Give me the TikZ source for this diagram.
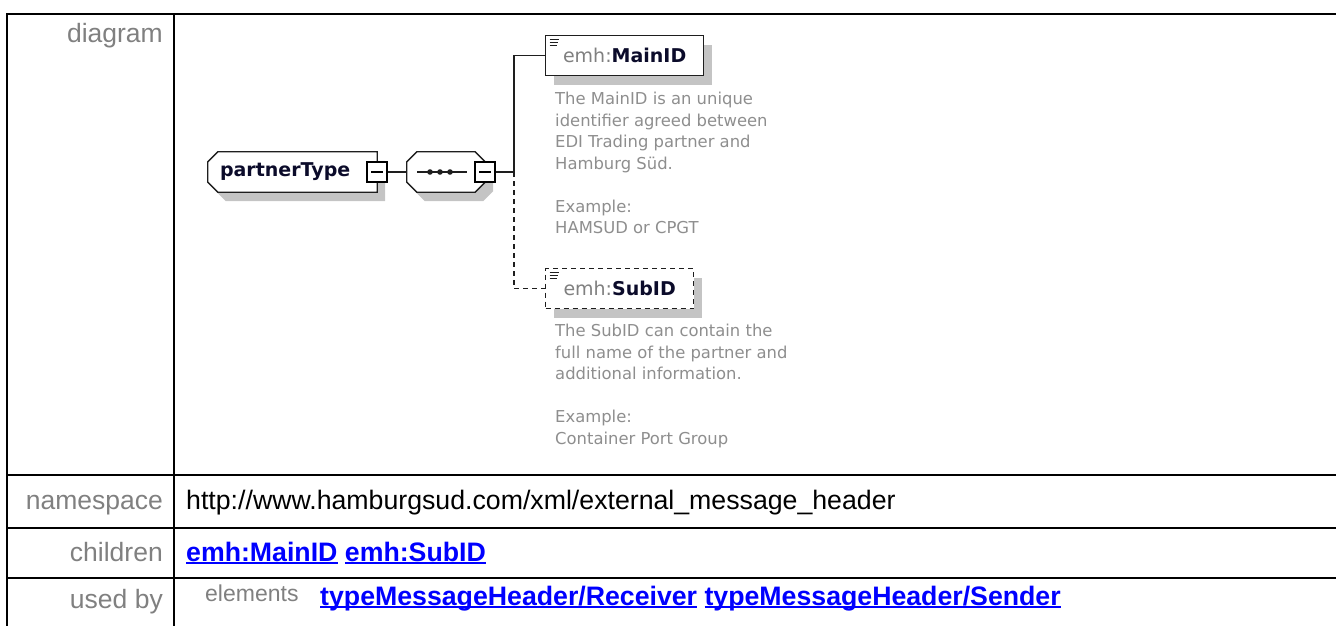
\documentclass[tikz,border=0pt]{standalone}
\usepackage{fontspec}
\setmainfont{Liberation Sans}
\newfontfamily\diafont{DejaVu Sans}
\usetikzlibrary{backgrounds,shadows}

\definecolor{lblgray}{HTML}{808080}
\definecolor{docgray}{HTML}{8E8E8E}
\definecolor{shadowgray}{HTML}{C4C4C4}
\definecolor{linkblue}{HTML}{0000FF}
\definecolor{boxink}{HTML}{1E1E1E}
\definecolor{nametext}{HTML}{0B0B2A}

\newcommand\ulink[1]{\setbox0\hbox{#1}\rlap{\rule[-3pt]{\wd0}{2pt}}\box0\relax}
\newcommand\leftcut[1]{([xshift=10pt]#1.north west) -- (#1.north east) -- (#1.south east)
  -- ([xshift=10pt]#1.south west) -- ([yshift=10pt]#1.south west) -- ([yshift=-10pt]#1.north west) -- cycle}
\newcommand\bothcut[1]{([xshift=10pt]#1.north west) -- ([xshift=-10pt]#1.north east)
  -- ([yshift=-10pt]#1.north east) -- ([yshift=10pt]#1.south east) -- ([xshift=-10pt]#1.south east)
  -- ([xshift=10pt]#1.south west) -- ([yshift=10pt]#1.south west) -- ([yshift=-10pt]#1.north west) -- cycle}

\begin{document}
\begin{tikzpicture}[x=1pt,y=-1pt,
  rule/.style={line width=2pt},
  rowlabel/.style={anchor=base east,inner sep=0pt,text=lblgray,font=\fontsize{26.5}{30}\selectfont},
  rowtext/.style={anchor=base west,inner sep=0pt,font=\fontsize{26.7}{30}\selectfont},
  linktext/.style={rowtext,text=linkblue,font=\fontsize{26.7}{30}\selectfont\bfseries},
  shade/.style={drop shadow={shadow xshift=8pt,shadow yshift=-9pt,fill=shadowgray,opacity=1}},
  ctype/.style={rectangle,minimum height=40pt,inner sep=0pt,text=nametext,
    font=\diafont\fontsize{19}{22}\selectfont\bfseries},
  outline/.style={draw=boxink,line width=1.3pt,fill=white},
  shadowfill/.style={fill=shadowgray,transform canvas={shift={(8pt,-9pt)}}},
  minusbox/.style={rectangle,draw=black,line width=2pt,fill=white,minimum size=20pt,inner sep=0pt,
    path picture={\draw[line width=1.5pt] ([xshift=4pt]path picture bounding box.west)
      -- ([xshift=-4pt]path picture bounding box.east);}},
  element/.style={rectangle,draw=boxink,line width=1.3pt,fill=white,shade,minimum height=40pt,
    inner sep=0pt,font=\diafont\fontsize{19}{22}\selectfont,anchor=north west,
    path picture={\foreach \k in {0,1,2}{\draw[solid,line width=1.1pt,boxink]
      ([xshift=4pt,yshift=-3.5pt-\k*3pt]path picture bounding box.north west) -- ++(9pt-\k*1pt,0pt);}}},
  doctext/.style={anchor=north west,align=left,inner sep=0pt,text=docgray,
    font=\diafont\fontsize{16.4}{21.5}\selectfont},
  conn/.style={line width=1.5pt,boxink}]
\useasboundingbox (0,0) rectangle (1336,626);

% table frame
\draw[rule] (7,626) -- (7,14) -- (1336,14);
\draw[rule] (174,14) -- (174,626);
\foreach \y in {475,528,578}
  \draw[rule] (7,\y) -- (1336,\y);

% row labels
\node[rowlabel] (lbldiagram) at (163,43) {diagram};
\node[rowlabel] (lblnamespace) at (163,509) {namespace};
\node[rowlabel] (lblchildren) at (163,561) {children};
\node[rowlabel] (lblusedby) at (163,608) {used by};

% row contents
\node[rowtext] (nsurl) at (186,509) {http://www.hamburgsud.com/xml/external\_message\_header};
\node[linktext] (childlinks) at (186,561) {\ulink{emh:MainID} \ulink{emh:SubID}};
\node[rowtext,text=lblgray,font=\fontsize{23}{26}\selectfont] (usedkind) at (205,601) {elements};
\node[linktext] (usedlinks) at (320,605) {\ulink{typeMessageHeader/Receiver} \ulink{typeMessageHeader/Sender}};

% diagram
\node[ctype,minimum width=169pt,text width=145pt,align=left] (partnertype) at (292.5,172) {partnerType};
\node[ctype,minimum width=78pt,
  path picture={\draw[line width=1.3pt,boxink] ([xshift=-29pt]path picture bounding box.center)
    -- ([xshift=21pt]path picture bounding box.center);
    \foreach \d in {-16,-6,4} \fill[boxink] ([xshift=\d pt]path picture bounding box.center) circle (2.8pt);}]
  (seq) at (446,172) {};
\begin{scope}[on background layer]
  \fill[shadowfill] \leftcut{partnertype};
  \fill[shadowfill] \bothcut{seq};
  \path[outline] \leftcut{partnertype};
  \path[outline] \bothcut{seq};
\end{scope}
\node[minusbox] (pminus) at (partnertype.east) {};
\node[minusbox] (sminus) at (seq.east) {};
\coordinate (fork) at (514,172);

\node[element,minimum width=158pt] (mainid) at (545,35)
  {\textcolor{lblgray}{emh:}\textcolor{nametext}{\bfseries MainID}};
\node[element,minimum width=148pt,dashed,dash pattern=on 5pt off 4pt] (subid) at (545,268)
  {\textcolor{lblgray}{emh:}\textcolor{nametext}{\bfseries SubID}};

\node[doctext] (maindoc) at (555,92) {The MainID is an unique\\identifier agreed between\\EDI Trading partner and\\Hamburg Süd.\\[21.5pt]Example:\\HAMSUD or CPGT};
\node[doctext] (subdoc) at (555,324) {The SubID can contain the\\full name of the partner and\\additional information.\\[21.5pt]Example:\\Container Port Group};

\draw[conn] (pminus.east) -- (seq.west);
\draw[conn] (sminus.east) -- (fork);
\draw[conn] (fork) |- (mainid.west);
\draw[conn,dash pattern=on 5pt off 4pt] (fork) |- (subid.west);
\end{tikzpicture}
\end{document}
